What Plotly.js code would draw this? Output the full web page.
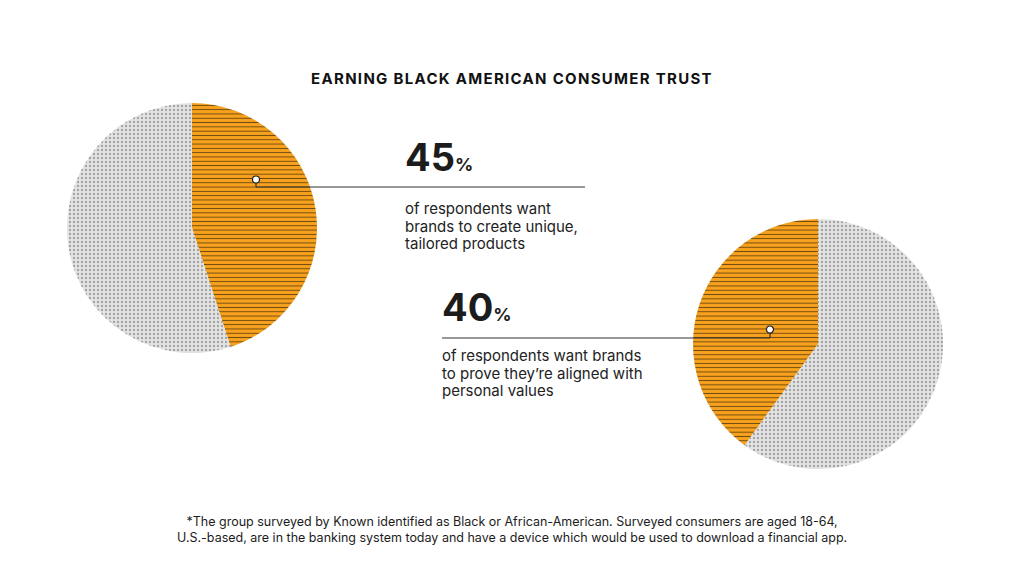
<!DOCTYPE html>
<html>
<head>
<meta charset="utf-8">
<script src="https://cdn.plot.ly/plotly-3.0.1.min.js"></script>
<style>
  html, body { margin: 0; padding: 0; background: #fff; }
  #chart { width: 1024px; height: 576px; }
  .gtitle { letter-spacing: 1.3px; }
</style>
</head>
<body>
<div id="chart"></div>
<script>
// ---- data ----
const chartTitle = "EARNING BLACK AMERICAN CONSUMER TRUST";
const pieLabels = ["Agree", "Other"];
const pie1Values = [45, 55];
const pie2Values = [40, 60];
const stat1 = "45";
const stat2 = "40";
const desc1 = ["of respondents want", "brands to create unique,", "tailored products"];
const desc2 = ["of respondents want brands", "to prove they’re aligned with", "personal values"];
const footnote = ["*The group surveyed by Known identified as Black or African-American. Surveyed consumers are aged 18-64,",
                  "U.S.-based, are in the banking system today and have a device which would be used to download a financial app."];

// ---- layout helpers (pixel -> paper) ----
const W = 1024, H = 576;
const px = x => x / W;
const py = y => 1 - y / H;
const FONT = "Inter, 'Noto Sans', sans-serif";
const ORANGE = "#F7A11D";
const GRAY = "#E4E4E4";
const LINE_DARK = "#3b2a0c";
const DOT = "#8c8c8c";

function pieDomain(cx, cy, r) {
  return { x: [px(cx - r), px(cx + r)], y: [py(cy + r), py(cy - r)] };
}

function pieTrace(labels, values, colors, shapesArr, fg, sizes, sol, domain) {
  return {
    type: "pie", labels: labels, values: values, sort: false,
    direction: "clockwise", rotation: 0, textinfo: "none", hoverinfo: "none",
    domain: domain,
    marker: { colors: colors, line: { width: 0 },
              pattern: { shape: shapesArr, bgcolor: colors, fgcolor: fg,
                         fgopacity: 0.75, size: sizes, solidity: sol } },
    showlegend: false
  };
}

// Left pie: orange slice runs clockwise from 12 o'clock.
// Right pie: orange slice runs counter-clockwise from 12 o'clock (drawn clockwise with order reversed).
const traces = [
  pieTrace(pieLabels, pie1Values, [ORANGE, GRAY], ["-", "."], [LINE_DARK, DOT], [4.3, 4], [0.22, 0.28],
           pieDomain(192, 228, 125)),
  pieTrace(pieLabels.slice().reverse(), pie2Values.slice().reverse(), [GRAY, ORANGE], [".", "-"], [DOT, LINE_DARK],
           [4, 4.3], [0.28, 0.22], pieDomain(818, 344, 125))
];

const LINE = { color: "#333333", width: 1.2 };
const shapes = [
  // leader 1
  { type: "line", xref: "paper", yref: "paper", x0: px(256), x1: px(256), y0: py(180), y1: py(187), line: LINE },
  { type: "line", xref: "paper", yref: "paper", x0: px(256), x1: px(585), y0: py(187), y1: py(187), line: LINE },
  { type: "circle", xref: "paper", yref: "paper", x0: px(252.5), x1: px(259.5), y0: py(183), y1: py(176),
    fillcolor: "#ffffff", line: { color: "#222", width: 1.2 } },
  // leader 2
  { type: "line", xref: "paper", yref: "paper", x0: px(442), x1: px(770), y0: py(338), y1: py(338), line: LINE },
  { type: "line", xref: "paper", yref: "paper", x0: px(770), x1: px(770), y0: py(338), y1: py(330), line: LINE },
  { type: "circle", xref: "paper", yref: "paper", x0: px(766.5), x1: px(773.5), y0: py(333), y1: py(326),
    fillcolor: "#ffffff", line: { color: "#222", width: 1.2 } }
];

function statAnn(val, x, yBase) {
  return { xref: "paper", yref: "paper", x: px(x), y: py(yBase), xanchor: "left", yanchor: "bottom",
           showarrow: false, align: "left",
           text: "<b>" + val + "</b><span style='font-size:18px'><b>%</b></span>",
           font: { family: FONT, size: 38, color: "#1c1c1c", weight: 800 } };
}
function descAnns(lines, x, yCenterFirst, step) {
  return lines.map((t, i) => ({
    xref: "paper", yref: "paper", x: px(x), y: py(yCenterFirst + i * step), xanchor: "left", yanchor: "middle",
    showarrow: false, align: "left", text: t,
    font: { family: FONT, size: 15, color: "#222" } }));
}

const annotations = [
  statAnn(stat1, 403, 182),
  ...descAnns(desc1, 403, 208.5, 17.5),
  statAnn(stat2, 440, 332),
  ...descAnns(desc2, 440, 355.5, 17.5),
  { xref: "paper", yref: "paper", x: 0.5, y: py(512), xanchor: "center", yanchor: "top", showarrow: false,
    align: "center", text: footnote.join("<br>"), font: { family: FONT, size: 12.5, color: "#1c1c1c" } }
];

const layout = {
  width: W, height: H,
  margin: { l: 0, r: 0, t: 0, b: 0 },
  paper_bgcolor: "#ffffff",
  title: { text: "<b>" + chartTitle + "</b>", x: 0.5, xanchor: "center", y: py(79), yanchor: "middle",
           font: { family: FONT, size: 15, color: "#111" } },
  shapes: shapes,
  annotations: annotations,
  showlegend: false
};

Plotly.newPlot("chart", traces, layout, { displayModeBar: false, staticPlot: true });
</script>
</body>
</html>
